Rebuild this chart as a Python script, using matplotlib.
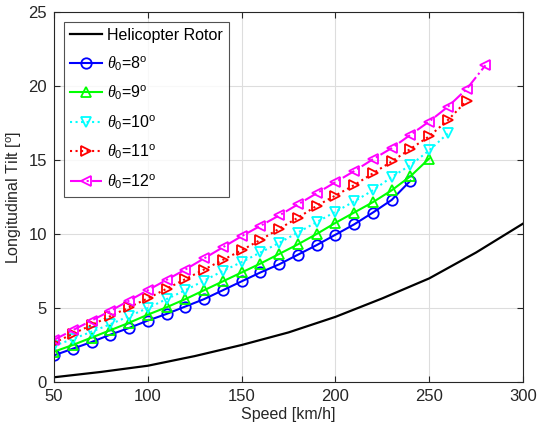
import matplotlib.pyplot as plt
import numpy as np

# rotor reference curve
rotor_speed = [50, 75, 100, 125, 150, 175, 200, 225, 250, 275, 300]
rotor_tilt = [0.32, 0.68, 1.1, 1.75, 2.5, 3.35, 4.4, 5.65, 7.0, 8.75, 10.7]

# tilt for each collective pitch, speed from 50 km/h in 10 km/h steps
tilt_8 = [1.8, 2.25, 2.7, 3.2, 3.65, 4.15, 4.6, 5.1, 5.6, 6.2, 6.8, 7.4, 7.95,
          8.6, 9.25, 9.95, 10.65, 11.45, 12.3, 13.6]
tilt_9 = [2.05, 2.5, 3.0, 3.5, 4.0, 4.55, 5.05, 5.6, 6.2, 6.8, 7.4, 8.0, 8.65,
          9.3, 10.0, 10.75, 11.45, 12.15, 12.95, 13.9, 15.1]
tilt_10 = [2.45, 2.9, 3.4, 3.9, 4.45, 5.0, 5.6, 6.2, 6.85, 7.5, 8.1, 8.75, 9.4,
           10.1, 10.8, 11.5, 12.2, 12.95, 13.85, 14.65, 15.65, 16.8]
tilt_11 = [2.65, 3.25, 3.85, 4.45, 5.05, 5.65, 6.3, 6.95, 7.6, 8.25, 8.9, 9.6,
           10.35, 11.1, 11.9, 12.6, 13.3, 14.1, 14.9, 15.75, 16.6, 17.7, 19.0]
tilt_12 = [2.85, 3.5, 4.15, 4.8, 5.5, 6.2, 6.9, 7.6, 8.35, 9.1, 9.85, 10.55,
           11.25, 12.0, 12.75, 13.5, 14.25, 15.05, 15.8, 16.7, 17.6, 18.6, 19.8, 21.4]

labels = [r'$\theta_0$=8$^{\rm o}$', r'$\theta_0$=9$^{\rm o}$', r'$\theta_0$=10$^{\rm o}$',
          r'$\theta_0$=11$^{\rm o}$', r'$\theta_0$=12$^{\rm o}$']

plt.rcParams['font.family'] = ['Liberation Sans', 'DejaVu Sans']
plt.rcParams['mathtext.fontset'] = 'custom'
plt.rcParams['mathtext.rm'] = 'Liberation Sans'
plt.rcParams['mathtext.it'] = 'Liberation Serif:italic'

fig = plt.figure(figsize=(5.39, 4.34), dpi=100)
ax = fig.add_axes([0.1002, 0.1198, 0.8701, 0.8526])

ax.plot(rotor_speed, rotor_tilt, color='k', lw=1.6, label='Helicopter Rotor')

styles = [('#0000ff', '-', 'o'), ('#00ff00', '-', '^'), ('#00ffff', ':', 'v'),
          ('#ff0000', ':', '>'), ('#ff00ff', '-.', '<')]
series = [tilt_8, tilt_9, tilt_10, tilt_11, tilt_12]
for tilt, (c, ls, m), lab in zip(series, styles, labels):
    speed = 50 + 10 * np.arange(len(tilt))
    ax.plot(speed, tilt, color=c, ls=ls, marker=m, ms=7.5, mfc='none',
            mec=c, mew=1.3, lw=1.5, label=lab)

ax.set_xlim(50, 300)
ax.set_ylim(0, 25)
ax.set_xticks([50, 100, 150, 200, 250, 300])
ax.set_yticks([0, 5, 10, 15, 20, 25])
ax.grid(True, color='#dddddd', lw=0.8)
ax.tick_params(direction='in', top=True, right=True, labelsize=12,
               colors='#262626', length=4, pad=5)
for s in ax.spines.values():
    s.set_color('#262626')
    s.set_linewidth(0.8)

ax.set_xlabel('Speed [km/h]', fontsize=11.5, color='#262626', labelpad=2)
ax.set_ylabel(r'Longitudinal Tilt [$^{\rm o}$]', fontsize=11.5, color='#262626', labelpad=4)

leg = ax.legend(loc='upper left', fontsize=11.5, frameon=True, fancybox=False,
                handlelength=2.0, handletextpad=0.3, borderpad=0.4,
                labelspacing=0.7, borderaxespad=0.6)
leg.get_frame().set_edgecolor('#262626')
leg.get_frame().set_linewidth(0.8)

fig.savefig('out.png', dpi=100)
